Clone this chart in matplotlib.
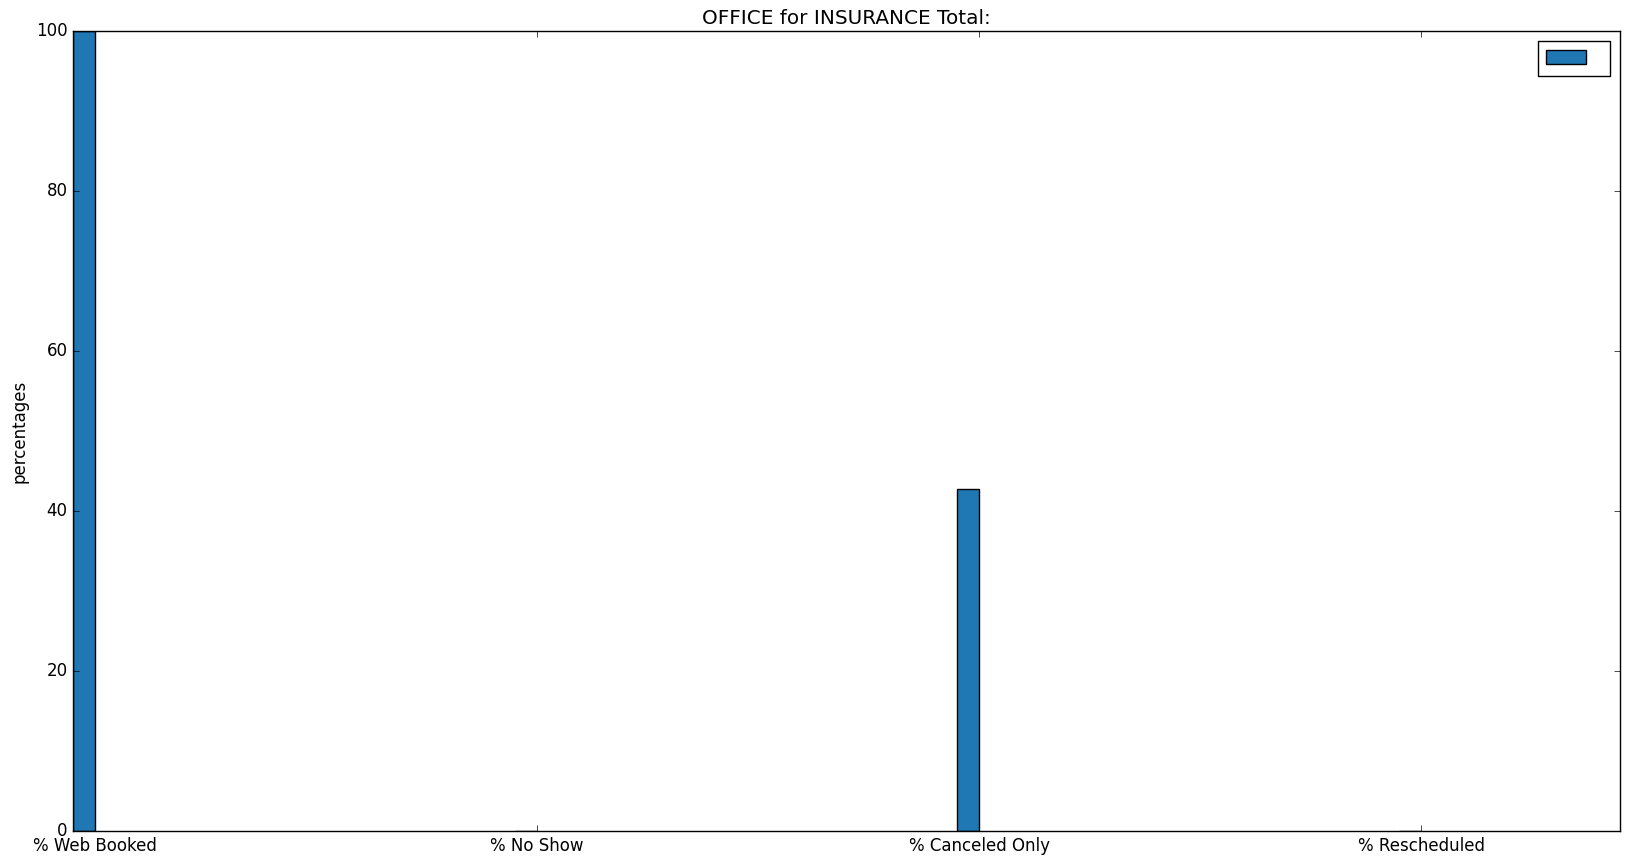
import matplotlib
matplotlib.use('Agg')
import matplotlib.pyplot as plt
import numpy as np

categories = ['% Web Booked', '% No Show', '% Canceled Only', '% Rescheduled']
values = [100.0, 0.0, 42.7, 0.0]

plt.style.use('classic')
plt.rcParams['font.family'] = ['DejaVu Sans']

fig = plt.figure(figsize=(16.32, 8.65), dpi=100)
ax = fig.add_axes([0.0447, 0.0393, 0.9479, 0.9247])

x = np.arange(len(categories))
ax.bar(x, values, width=-0.05, align='edge', color='#1f77b4',
       edgecolor='black', linewidth=1, label=' ')
ax.set_xticks(x)
ax.set_xticklabels(categories, fontsize=12)
ax.set_xlim(-0.05, 3.45)
ax.set_ylim(0, 100)
ax.set_yticks([0, 20, 40, 60, 80, 100])
ax.tick_params(labelsize=12)
ax.set_ylabel('percentages', fontsize=12)
ax.set_title('OFFICE for INSURANCE Total:', fontsize=14.4)
ax.legend(loc='upper right', fontsize=14.4, handletextpad=0.5)

fig.savefig('out.png', dpi=100)
